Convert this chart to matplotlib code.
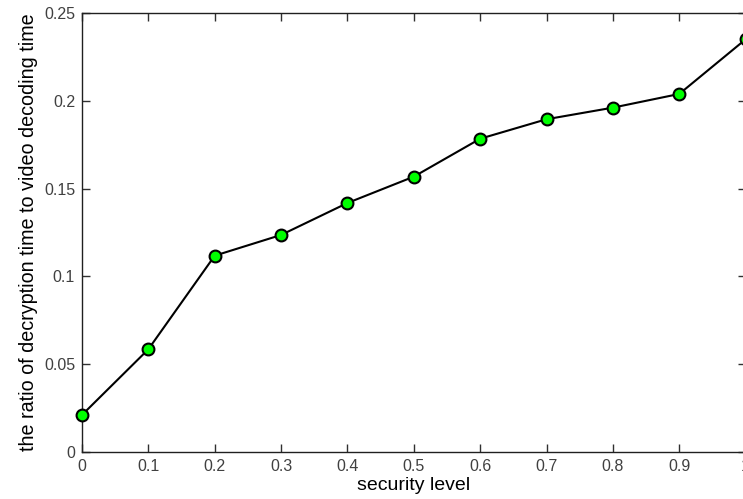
import matplotlib
matplotlib.use("Agg")
import matplotlib.pyplot as plt

security_level = [0, 0.1, 0.2, 0.3, 0.4, 0.5, 0.6, 0.7, 0.8, 0.9, 1.0]
ratio = [0.0211, 0.0585, 0.1118, 0.1236, 0.1418, 0.1568, 0.1784, 0.1895, 0.1961, 0.2039, 0.2350]
xticks = [0, 0.1, 0.2, 0.3, 0.4, 0.5, 0.6, 0.7, 0.8, 0.9, 1.0]
xticklabels = ["0", "0.1", "0.2", "0.3", "0.4", "0.5", "0.6", "0.7", "0.8", "0.9", "1"]
yticks = [0, 0.05, 0.1, 0.15, 0.2, 0.25]
yticklabels = ["0", "0.05", "0.1", "0.15", "0.2", "0.25"]

plt.rcParams['font.family'] = ['Liberation Sans', 'DejaVu Sans']

fig = plt.figure(figsize=(7.43, 4.99), dpi=100)
ax = fig.add_axes([82 / 743, (499 - 452) / 499, (745.6 - 82) / 743, 439 / 499])

ax.plot(security_level, ratio, color='black', linewidth=1.5,
        marker='o', markersize=8.5, markerfacecolor='#00ff00',
        markeredgecolor='black', markeredgewidth=1.5, clip_on=False, zorder=3)

ax.set_xlim(0, 1)
ax.set_ylim(0, 0.25)
ax.set_xticks(xticks)
ax.set_xticklabels(xticklabels)
ax.set_yticks(yticks)
ax.set_yticklabels(yticklabels)

ax.tick_params(direction='in', length=6, width=1, top=True, right=True,
               labelsize=11.5, labelcolor='#404040', color='#303030', pad=5)
for s in ax.spines.values():
    s.set_color('#202020')
    s.set_linewidth(1.0)

ax.set_xlabel('security level', fontsize=14, labelpad=2.5)
ax.set_ylabel('the ratio of decryption time to video decoding time', fontsize=14.2, labelpad=4)

fig.savefig('out.png', dpi=100)
